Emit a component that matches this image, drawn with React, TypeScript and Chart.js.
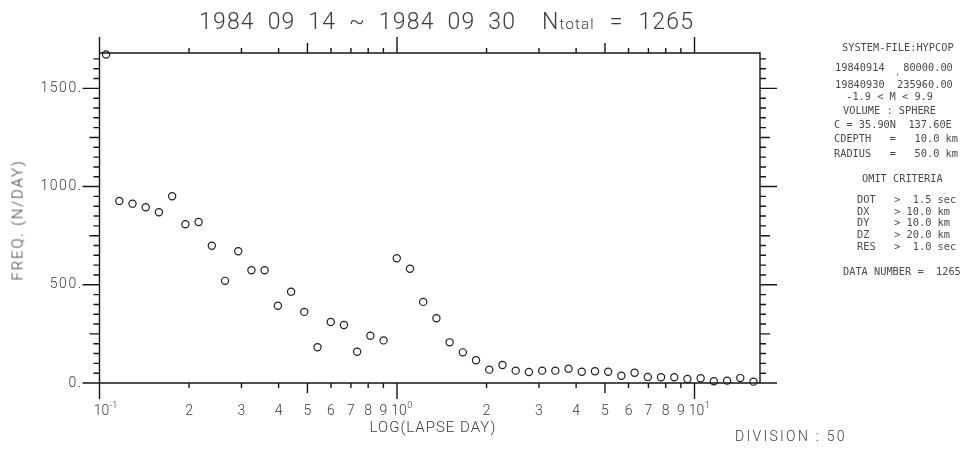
import React, { useEffect, useRef } from 'react';
import { Chart, registerables } from 'chart.js';

Chart.register(...registerables);

// Bin centres (lapse time in days)
const LAPSE_DAYS = [
  0.1052, 0.1166, 0.1291, 0.1430, 0.1584, 0.1755, 0.1944, 0.2153, 0.2385, 0.2642,
  0.2926, 0.3241, 0.3590, 0.3977, 0.4405, 0.4879, 0.5405, 0.5987, 0.6631, 0.7345,
  0.8136, 0.9012, 0.9982, 1.1057, 1.2247, 1.3566, 1.5027, 1.6645, 1.8437, 2.0421,
  2.2620, 2.5056, 2.7754, 3.0743, 3.4052, 3.7719, 4.1780, 4.6279, 5.1261, 5.6779,
  6.2892, 6.9665, 7.7163, 8.5474, 9.4673, 10.487, 11.616, 12.867, 14.252, 15.787,
];

// Frequency (events per day)
const FREQ_PER_DAY = [
  1672, 927, 913, 895, 869, 951, 808, 820, 699, 520,
  671, 574, 574, 393, 465, 362, 182, 311, 295, 159,
  241, 217, 635, 582, 413, 330, 207, 156, 116, 68,
  92, 63, 56, 63, 63, 73, 57, 60, 57, 37,
  52, 31, 29, 29, 20, 24, 9, 12, 25, 7,
];

const X_TICK_VALUES = [0.1, 0.2, 0.3, 0.4, 0.5, 0.6, 0.7, 0.8, 0.9, 1, 2, 3, 4, 5, 6, 7, 8, 9, 10];
const X_TICK_LABELS = ['10^-1', '2', '3', '4', '5', '6', '7', '8', '9', '10^0', '2', '3', '4', '5', '6', '7', '8', '9', '10^1'];
const Y_LABEL_VALUES = [0, 500, 1000, 1500];
const Y_TICK_LABELS = ['0.', '500.', '1000.', '1500.'];
const Y_MINOR_STEP = 50;
const X_MIN = 0.1;
const X_MAX = 16.6;
const Y_MIN = 0;
const Y_MAX = 1680;

const TITLE_LEFT = '1984 09 14 ~ 1984 09 30';
const TITLE_TOTAL = '1265';
const X_TITLE = 'LOG(LAPSE DAY)';
const Y_TITLE = 'FREQ. (N/DAY)';
const DIVISION_TEXT = 'DIVISION : 50';

const PANEL_LINES: [number, number, string][] = [
  [842, 47, 'SYSTEM-FILE:HYPCOP'],
  [835, 67, '19840914   80000.00'],
  [835, 84, '19840930  235960.00'],
  [840, 96, ' -1.9 < M < 9.9'],
  [843, 110, 'VOLUME : SPHERE'],
  [834, 124, 'C = 35.90N  137.60E'],
  [834, 138, 'CDEPTH   =   10.0 km'],
  [834, 153, 'RADIUS   =   50.0 km'],
  [862, 178, 'OMIT CRITERIA'],
  [857, 199, 'DOT   >  1.5 sec'],
  [857, 211, 'DX    > 10.0 km'],
  [857, 222, 'DY    > 10.0 km'],
  [857, 234, 'DZ    > 20.0 km'],
  [857, 246, 'RES   >  1.0 sec'],
  [843, 271, 'DATA NUMBER =  1265'],
];

const PLOT_FONT = 'Roboto, "DejaVu Sans", sans-serif';
const TEXT_COLOR = '#3a3a3a';
const LINE_COLOR = '#161616';

const framePlugin = {
  id: 'plotterFrame',
  afterDraw(chart: any) {
    const ctx: CanvasRenderingContext2D = chart.ctx;
    const { left, right, top, bottom } = chart.chartArea;
    const xs = chart.scales.x;
    const ys = chart.scales.y;
    ctx.save();
    ctx.strokeStyle = LINE_COLOR;
    ctx.lineWidth = 1.4;
    ctx.beginPath();
    ctx.rect(left, top, right - left, bottom - top);

    X_TICK_VALUES.forEach((v) => {
      const px = xs.getPixelForValue(v);
      const mant = Math.round(v / Math.pow(10, Math.floor(Math.log10(v) + 1e-9)));
      const len = mant === 1 ? 16 : mant === 5 ? 10 : 5;
      ctx.moveTo(px, bottom);
      ctx.lineTo(px, bottom + len);
      ctx.moveTo(px, top);
      ctx.lineTo(px, top - len);
    });

    for (let v = Y_MIN; v <= Y_MAX; v += Y_MINOR_STEP) {
      const py = ys.getPixelForValue(v);
      const len = v % 500 === 0 ? 17 : v % 250 === 0 ? 10 : 6;
      ctx.moveTo(left, py);
      ctx.lineTo(left - len, py);
      ctx.moveTo(right, py);
      ctx.lineTo(right + len, py);
    }
    ctx.stroke();

    // x tick labels
    ctx.fillStyle = TEXT_COLOR;
    ctx.textBaseline = 'middle';
    X_TICK_VALUES.forEach((v, i) => {
      const px = xs.getPixelForValue(v);
      const label = X_TICK_LABELS[i];
      const y = bottom + 28;
      if (label.includes('^')) {
        const [base, exp] = label.split('^');
        ctx.font = `300 14px ${PLOT_FONT}`;
        ctx.textAlign = 'center';
        const w = ctx.measureText(base).width;
        ctx.fillText(base, px + 2, y);
        ctx.font = `300 9px ${PLOT_FONT}`;
        ctx.textAlign = 'left';
        ctx.fillText(exp, px + 2 + w / 2 + 0.5, y - 5);
      } else {
        ctx.font = `300 14px ${PLOT_FONT}`;
        ctx.textAlign = 'center';
        ctx.fillText(label, px, y);
      }
    });

    // y tick labels
    ctx.font = `300 14px ${PLOT_FONT}`;
    ctx.textAlign = 'right';
    (ctx as any).letterSpacing = '1.5px';
    Y_LABEL_VALUES.forEach((v, i) => {
      const py = ys.getPixelForValue(v);
      ctx.fillText(Y_TICK_LABELS[i], left - 17, py);
    });
    ctx.restore();
  },
};

export default function App() {
  const canvasRef = useRef<HTMLCanvasElement>(null);

  useEffect(() => {
    if (!canvasRef.current) return;
    const chart = new Chart(canvasRef.current, {
      type: 'scatter',
      data: {
        datasets: [
          {
            data: LAPSE_DAYS.map((x, i) => ({ x, y: FREQ_PER_DAY[i] })),
            pointStyle: 'circle',
            pointRadius: 3.6,
            pointBorderWidth: 1.2,
            pointBorderColor: '#1e1e1e',
            pointBackgroundColor: 'rgba(255,255,255,0)',
            clip: false as any,
          } as any,
        ],
      },
      options: {
        animation: false,
        responsive: false,
        events: [],
        layout: { padding: { left: 99.5, top: 53, right: 200, bottom: 67 } },
        plugins: { legend: { display: false }, tooltip: { enabled: false } },
        scales: {
          x: { type: 'logarithmic', min: X_MIN, max: X_MAX, display: false },
          y: { type: 'linear', min: Y_MIN, max: Y_MAX, display: false },
        },
      },
      plugins: [framePlugin],
    });
    return () => chart.destroy();
  }, []);

  const text = (extra: React.CSSProperties): React.CSSProperties => ({
    position: 'absolute',
    fontFamily: PLOT_FONT,
    fontWeight: 300,
    color: TEXT_COLOR,
    whiteSpace: 'pre',
    lineHeight: 1,
    ...extra,
  });

  return (
    <div style={{ position: 'absolute', left: 0, top: 0, width: 960, height: 450, background: '#fff', overflow: 'hidden' }}>
      <canvas ref={canvasRef} width={960} height={450} style={{ position: 'absolute', left: 0, top: 0 }} />
      <div style={text({ left: 199, top: 10, fontSize: 23, letterSpacing: 1.2, wordSpacing: 6 })}>{TITLE_LEFT}</div>
      <div style={text({ left: 542, top: 10, fontSize: 23, letterSpacing: 1.2 })}>
        N<span style={{ fontSize: 15 }}>total</span>
        <span style={{ wordSpacing: 8 }}>{' = ' + TITLE_TOTAL}</span>
      </div>
      <div style={text({ left: 433, top: 427, fontSize: 15, letterSpacing: 1, transform: 'translate(-50%, -50%)' })}>{X_TITLE}</div>
      <div
        style={text({
          left: 18,
          top: 220,
          fontSize: 15,
          letterSpacing: 1.8,
          transform: 'translate(-50%, -50%) rotate(-90deg)',
        })}
      >
        {Y_TITLE}
      </div>
      <div style={text({ left: 735, top: 436, fontSize: 14, letterSpacing: 2.3, transform: 'translateY(-50%)' })}>{DIVISION_TEXT}</div>
      {PANEL_LINES.map(([x, y, s], i) => (
        <div
          key={i}
          style={text({
            left: x,
            top: y,
            fontSize: 10.3,
            fontFamily: '"DejaVu Sans Mono", monospace',
            fontWeight: 400,
            color: '#4a4a4a',
            transform: 'translateY(-50%)',
          })}
        >
          {s}
        </div>
      ))}
      <div style={text({ left: 895, top: 72, fontSize: 9, fontFamily: '"DejaVu Sans Mono", monospace', color: '#666', transform: 'translateY(-50%)' })}>,</div>
    </div>
  );
}
